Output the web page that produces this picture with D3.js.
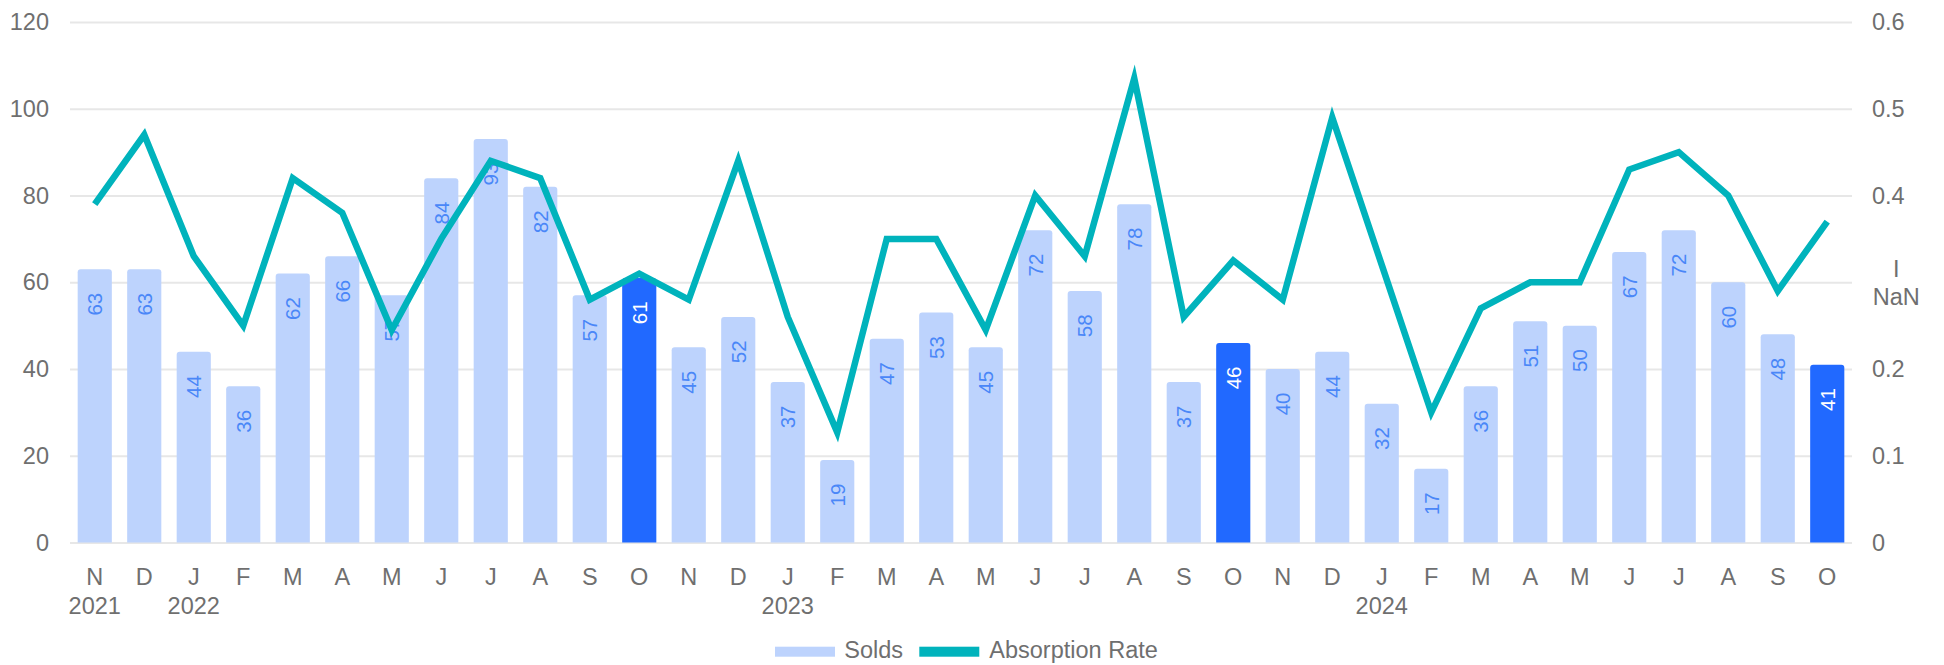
<!DOCTYPE html>
<html>
<head>
<meta charset="utf-8">
<script src="https://d3js.org/d3.v7.min.js"></script>
<style>
  body { margin: 0; background: #fff; }
  text { font-family: "Liberation Sans", Arial, sans-serif; }
</style>
</head>
<body>
<script>
// month initials along the x axis, one per bar
const months = ["N","D","J","F","M","A","M","J","J","A","S","O",
                "N","D","J","F","M","A","M","J","J","A","S","O",
                "N","D","J","F","M","A","M","J","J","A","S","O"];
// year shown under some months
const years = ["2021","","2022","","","","","","","","","",
               "","","2023","","","","","","","","","",
               "","","2024","","","","","","","","",""];
// bar series
const solds = [63,63,44,36,62,66,57,84,93,82,57,61,
               45,52,37,19,47,53,45,72,58,78,37,46,
               40,44,32,17,36,51,50,67,72,60,48,41];
// line series (right axis)
const absorption = [0.39,0.47,0.33,0.25,0.42,0.38,0.245,0.35,0.44,0.42,0.28,0.31,
                    0.28,0.44,0.26,0.127,0.35,0.35,0.245,0.40,0.33,0.535,0.26,0.325,
                    0.28,0.49,0.32,0.15,0.27,0.30,0.30,0.43,0.45,0.40,0.29,0.37];
// months drawn in the strong colour
const highlighted = [11, 23, 35];
// axis ticks
const leftTicks = [0,20,40,60,80,100,120];
const rightTicks = [0,0.1,0.2,0.3,0.4,0.5,0.6];
const rightTickLabels = ["0","0.1","0.2","I\nNaN","0.4","0.5","0.6"];

const W = 1944, H = 665;
const margin = {top: 22, right: 92, bottom: 122.5, left: 70};
const width = W - margin.left - margin.right;
const height = H - margin.top - margin.bottom;

const lightBar = "#bdd3fd", darkBar = "#2169ff", lineColor = "#00b3bc";
const textColor = "#6f6f6f", gridColor = "#e7e7e7";
const fs = 23.5;

const svg = d3.select("body").append("svg")
  .attr("width", W).attr("height", H);
const g = svg.append("g")
  .attr("transform", "translate(" + margin.left + "," + margin.top + ")");

const x = d3.scaleBand()
  .domain(d3.range(solds.length))
  .range([0, width])
  .paddingInner(0.31)
  .paddingOuter(0.155);
const y = d3.scaleLinear().domain([0, 120]).range([height, 0]);
const y2 = d3.scaleLinear().domain([0, 0.6]).range([height, 0]);

// grid lines
g.append("g")
  .call(d3.axisLeft(y).tickValues(leftTicks).tickSize(-width).tickFormat(""))
  .call(a => a.select(".domain").remove())
  .call(a => a.selectAll("line").attr("stroke", gridColor).attr("stroke-width", 2));

// left axis labels
g.append("g")
  .attr("transform", "translate(-21,0)")
  .call(d3.axisLeft(y).tickValues(leftTicks).tickSize(0).tickPadding(0))
  .call(a => a.select(".domain").remove())
  .call(a => a.selectAll("text").attr("fill", textColor).style("font-size", fs + "px")
                .style("font-family", "'Liberation Sans', Arial, sans-serif"));

// right axis labels
const rAxis = g.append("g")
  .attr("transform", "translate(" + (width + 20) + ",0)")
  .call(d3.axisRight(y2).tickValues(rightTicks).tickSize(0).tickPadding(0)
        .tickFormat((d, i) => rightTickLabels[i]))
  .call(a => a.select(".domain").remove());
rAxis.selectAll("text")
  .attr("fill", textColor).style("font-size", fs + "px")
  .style("font-family", "'Liberation Sans', Arial, sans-serif")
  .each(function(d, i) {
    const lines = rightTickLabels[i].split("\n");
    if (lines.length < 2) return;
    const t = d3.select(this).text(null).attr("dy", null);
    const w = 48.5;
    lines.forEach((ln, k) => {
      t.append("tspan")
        .attr("x", w / 2)
        .attr("text-anchor", "middle")
        .attr("dy", k === 0 ? "-0.25em" : "1.2em")
        .text(ln);
    });
  });

// x axis month labels
g.append("g")
  .attr("transform", "translate(0," + height + ")")
  .call(d3.axisBottom(x).tickSize(0).tickPadding(25.5).tickFormat(i => months[i]))
  .call(a => a.select(".domain").remove())
  .call(a => a.selectAll("text").attr("fill", textColor).style("font-size", fs + "px")
                .style("font-family", "'Liberation Sans', Arial, sans-serif"));

// year labels
g.append("g").selectAll("text")
  .data(years.map((yr, i) => ({yr, i})).filter(d => d.yr))
  .join("text")
  .attr("x", d => x(d.i) + x.bandwidth() / 2)
  .attr("y", height + 71)
  .attr("text-anchor", "middle")
  .attr("fill", textColor)
  .style("font-size", fs + "px")
  .text(d => d.yr);

// bars with rounded tops
const r = 3;
function barPath(i) {
  const x0 = x(i), x1 = x0 + x.bandwidth();
  const yt = y(solds[i]), yb = y(0);
  return "M" + x0 + "," + yb + "V" + (yt + r) +
    "Q" + x0 + "," + yt + " " + (x0 + r) + "," + yt +
    "H" + (x1 - r) + "Q" + x1 + "," + yt + " " + x1 + "," + (yt + r) +
    "V" + yb + "Z";
}
g.append("g").selectAll("path")
  .data(d3.range(solds.length))
  .join("path")
  .attr("d", barPath)
  .attr("fill", i => highlighted.includes(i) ? darkBar : lightBar);

// bar value labels, rotated
g.append("g").selectAll("text")
  .data(d3.range(solds.length))
  .join("text")
  .attr("transform", i => "translate(" + (x(i) + x.bandwidth() / 2) + "," + (y(solds[i]) + 23.5) + ") rotate(-90)")
  .attr("text-anchor", "end")
  .attr("dy", "0.36em")
  .attr("fill", i => highlighted.includes(i) ? "#ffffff" : "#4a87f8")
  .style("font-size", "20.5px")
  .text(i => solds[i]);

// absorption rate line
const line = d3.line()
  .x((d, i) => x(i) + x.bandwidth() / 2)
  .y(d => y2(d));
g.append("path")
  .datum(absorption)
  .attr("d", line)
  .attr("fill", "none")
  .attr("stroke", lineColor)
  .attr("stroke-width", 6.5)
  .attr("stroke-linejoin", "miter")
  .attr("stroke-miterlimit", 10);

// legend
const legend = svg.append("g").attr("transform", "translate(775,651.7)");
legend.append("rect").attr("x", 0).attr("y", -5).attr("width", 60).attr("height", 10).attr("fill", lightBar);
legend.append("text").attr("x", 69.3).attr("y", 6.6).attr("fill", textColor)
  .style("font-size", fs + "px").text("Solds");
legend.append("rect").attr("x", 144.3).attr("y", -5).attr("width", 60).attr("height", 10).attr("fill", lineColor);
legend.append("text").attr("x", 214.3).attr("y", 6.6).attr("fill", textColor)
  .style("font-size", fs + "px").text("Absorption Rate");
</script>
</body>
</html>
